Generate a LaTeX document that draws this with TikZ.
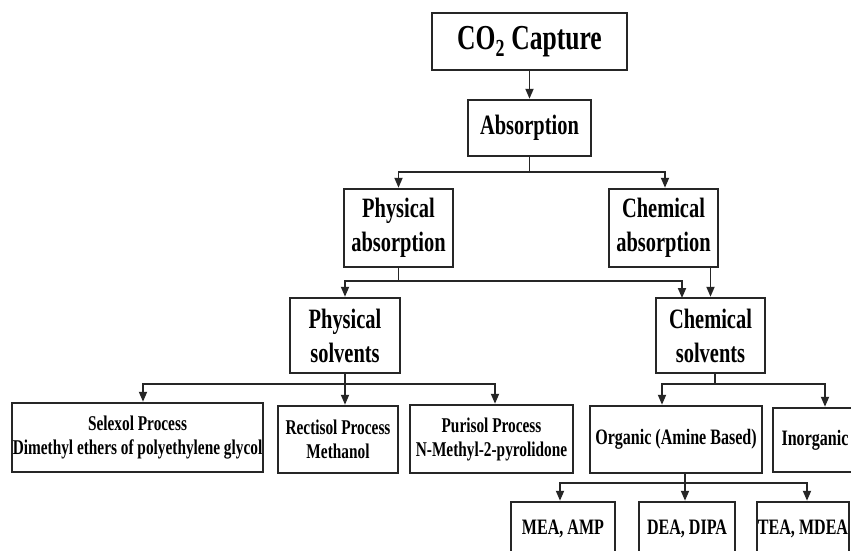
\documentclass[tikz,border=0pt]{standalone}
\usepackage{fontspec}
\setmainfont{Liberation Serif}[FakeStretch=0.73]
\usetikzlibrary{arrows.meta}
\begin{document}
\begin{tikzpicture}[x=1pt,y=-1pt,
  box/.style={draw=black!85, line width=2.5pt, inner sep=0pt, align=center, fill=white},
  bigtxt/.style={font=\fontsize{35}{40}\selectfont\bfseries},
  midtxt/.style={font=\fontsize{28}{34}\selectfont\bfseries},
  smalltxt/.style={font=\fontsize{21}{24}\selectfont\bfseries},
  lowtxt/.style={font=\fontsize{22}{26}\selectfont\bfseries},
  conn/.style={draw=black!85, line width=1.8pt},
  arr/.style={conn, -{Triangle[length=10pt,width=8pt]}}]
\useasboundingbox (0,0) rectangle (851,551);
\clip (0,0) rectangle (851,551);
\fill[white] (0,0) rectangle (851,551);

\node[box, bigtxt, minimum width=195pt, minimum height=57pt] (cap) at (529.5,41.5) {CO\textsubscript{2} Capture};
\node[box, midtxt, minimum width=123pt, minimum height=56pt] (abs) at (529.5,128) {Absorption};
\node[box, midtxt, minimum width=109pt, minimum height=78pt] (pa) at (398.5,228) {Physical\\absorption};
\node[box, midtxt, minimum width=109pt, minimum height=78pt] (ca) at (663.5,228) {Chemical\\absorption};
\node[box, midtxt, minimum width=110pt, minimum height=75pt] (ps) at (345,335.5) {Physical\\solvents};
\node[box, midtxt, minimum width=109pt, minimum height=75pt] (cs) at (710.5,335.5) {Chemical\\solvents};
\node[box, smalltxt, minimum width=251pt, minimum height=69pt] (sel) at (137.5,437.5) {Selexol Process\\Dimethyl ethers of polyethylene glycol};
\node[box, smalltxt, minimum width=120pt, minimum height=67pt] (rec) at (338,439.5) {Rectisol Process\\Methanol};
\node[box, smalltxt, minimum width=163pt, minimum height=68pt] (pur) at (491.5,439) {Purisol Process\\N-Methyl-2-pyrolidone};
\node[box, lowtxt, minimum width=172pt, minimum height=67pt] (org) at (676,439.5) {Organic (Amine Based)};
\node[box, lowtxt, minimum width=84pt, minimum height=64pt] (ino) at (815,440) {Inorganic};
\node[box, lowtxt, minimum width=104pt, minimum height=54pt] (mea) at (563,529) {MEA, AMP};
\node[box, lowtxt, minimum width=96pt, minimum height=54pt] (dea) at (687,529) {DEA, DIPA};
\node[box, lowtxt, minimum width=92pt, minimum height=54pt] (tea) at (803,529) {TEA, MDEA};

% connectors
\draw[arr] (cap) -- (abs);

\coordinate (j1) at (529.5,172);
\draw[conn] (abs.south) -- (j1);
\draw[arr] (j1) -| (pa.north);
\draw[arr] (j1) -| ([xshift=1.5pt]ca.north);

\coordinate (j2) at (398.5,281);
\coordinate (csin) at (682,298);
\draw[conn] (pa.south) -- (j2);
\draw[arr] (j2) -| (ps.north);
\draw[arr] (j2) -| (csin);
\draw[arr] (ca.south -| cs.north) -- (cs.north);

\coordinate (j3) at (345,384);
\draw[conn] (ps.south) -- (j3);
\draw[arr] (j3) -| ([xshift=5.5pt]sel.north);
\draw[arr] (j3) -| ([xshift=7pt]rec.north);
\draw[arr] (j3) -| ([xshift=3.5pt]pur.north);

\coordinate (j4) at (715,384);
\draw[conn] ([xshift=4.5pt]cs.south) -- (j4);
\draw[arr] (j4) -| ([xshift=-14pt]org.north);
\draw[arr] (j4) -| ([xshift=10pt]ino.north);

\coordinate (j5) at (685,483);
\draw[conn] ([xshift=9pt]org.south) -- (j5);
\draw[arr] (j5) -| ([xshift=-3pt]mea.north);
\draw[arr] (j5) -| ([xshift=-2pt]dea.north);
\draw[arr] (j5) -| ([xshift=4pt]tea.north);
\end{tikzpicture}
\end{document}
